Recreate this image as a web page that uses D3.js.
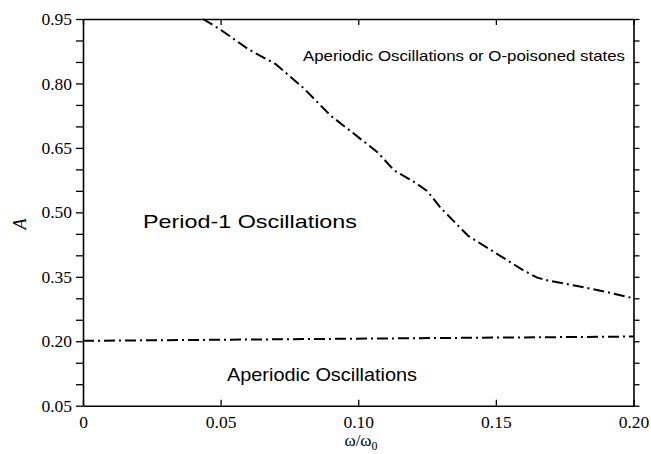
<!DOCTYPE html>
<html><head><meta charset="utf-8">
<script src="https://cdn.jsdelivr.net/npm/d3@7"></script>
<style>body{margin:0;background:#fff}</style>
</head><body>
<svg id="c" width="651" height="454"></svg>
<script>
const xTicks = [0, 0.05, 0.10, 0.15, 0.20];
const xTickLabels = ["0", "0.05", "0.10", "0.15", "0.20"];
const yTicks = [0.05, 0.20, 0.35, 0.50, 0.65, 0.80, 0.95];
const yTickLabels = ["0.05", "0.20", "0.35", "0.50", "0.65", "0.80", "0.95"];
const yMinorTicks = [0.05,0.10,0.15,0.20,0.25,0.30,0.35,0.40,0.45,0.50,0.55,0.60,0.65,0.70,0.75,0.80,0.85,0.90,0.95];
const upperX = [0.0436,0.05,0.06,0.07,0.08,0.09,0.10,0.107,0.113,0.12,0.125,0.13,0.14,0.15,0.16,0.165,0.17,0.18,0.19,0.20];
const upperY = [0.95,0.925,0.88,0.845,0.79,0.725,0.675,0.64,0.598,0.572,0.55,0.51,0.445,0.405,0.365,0.348,0.34,0.328,0.315,0.30];
const lowerX = [0, 0.20];
const lowerY = [0.201, 0.211];

const svg = d3.select("#c");
const L = 83, R = 633.5, T = 19, B = 405.7;
const x = d3.scaleLinear().domain([0, 0.20]).range([L, R]);
const y = d3.scaleLinear().domain([0.05, 0.95]).range([B, T]);

const serif = "'Liberation Serif','Times New Roman','DejaVu Serif',serif";
const sans = "'Liberation Sans',Arial,Helvetica,sans-serif";

const fmtX = d => xTickLabels[xTicks.indexOf(d)];

const gBottom = svg.append("g").attr("transform", `translate(0,${B})`)
  .call(d3.axisBottom(x).tickValues(xTicks).tickFormat(fmtX).tickSizeInner(-6).tickSizeOuter(0).tickPadding(10));
const gTop = svg.append("g").attr("transform", `translate(0,${T})`)
  .call(d3.axisTop(x).tickValues(xTicks).tickFormat("").tickSizeInner(-6).tickSizeOuter(0));
const gLeft = svg.append("g").attr("transform", `translate(${L},0)`)
  .call(d3.axisLeft(y).tickValues(yMinorTicks).tickFormat(d => { const i = yTicks.findIndex(v => Math.abs(v-d)<1e-9); return i>=0 ? yTickLabels[i] : ""; }).tickSizeInner(7).tickSizeOuter(0).tickPadding(4));
const gRight = svg.append("g").attr("transform", `translate(${R},0)`)
  .call(d3.axisRight(y).tickValues(yMinorTicks).tickFormat("").tickSizeInner(6).tickSizeOuter(0));

[gBottom, gTop, gLeft, gRight].forEach(g => {
  g.attr("font-family", null).attr("font-size", null);
  g.selectAll("path.domain").attr("stroke", "#000").attr("stroke-width", 1.6);
  g.selectAll(".tick line").attr("stroke", "#000").attr("stroke-width", 1.3);
  g.selectAll(".tick text").style("font-family", serif).style("font-size", "17.5px").attr("fill", "#000");
});

const line = d3.line().x(d => x(d[0])).y(d => y(d[1]));
const upper = upperX.map((v, i) => [v, upperY[i]]);
const lower = lowerX.map((v, i) => [v, lowerY[i]]);
[upper, lower].forEach(data => {
  svg.append("path").datum(data).attr("d", line)
    .attr("fill", "none").attr("stroke", "#000").attr("stroke-width", 2)
    .attr("stroke-dasharray", "11,4,2,4");
});

function label(tx, ty, size, w, s) {
  svg.append("text").attr("x", tx).attr("y", ty)
    .style("font-family", sans).style("font-size", size + "px")
    .attr("textLength", w).attr("lengthAdjust", "spacingAndGlyphs").text(s);
}
label(303, 61, 15, 322, "Aperiodic Oscillations or O-poisoned states");
label(143, 228, 18.6, 214, "Period-1 Oscillations");
label(227, 381, 17.7, 190, "Aperiodic Oscillations");

svg.append("text").attr("transform", "translate(26,224) rotate(-90)").attr("text-anchor", "middle")
  .style("font-family", serif).style("font-style", "italic").style("font-size", "18px").text("A");
const xt = svg.append("text").attr("x", 361).attr("y", 446).attr("text-anchor", "middle")
  .style("font-family", serif).style("font-size", "17px");
xt.append("tspan").text("ω/ω");
xt.append("tspan").style("font-size", "12px").attr("dy", 4).text("0");
</script>
</body></html>
